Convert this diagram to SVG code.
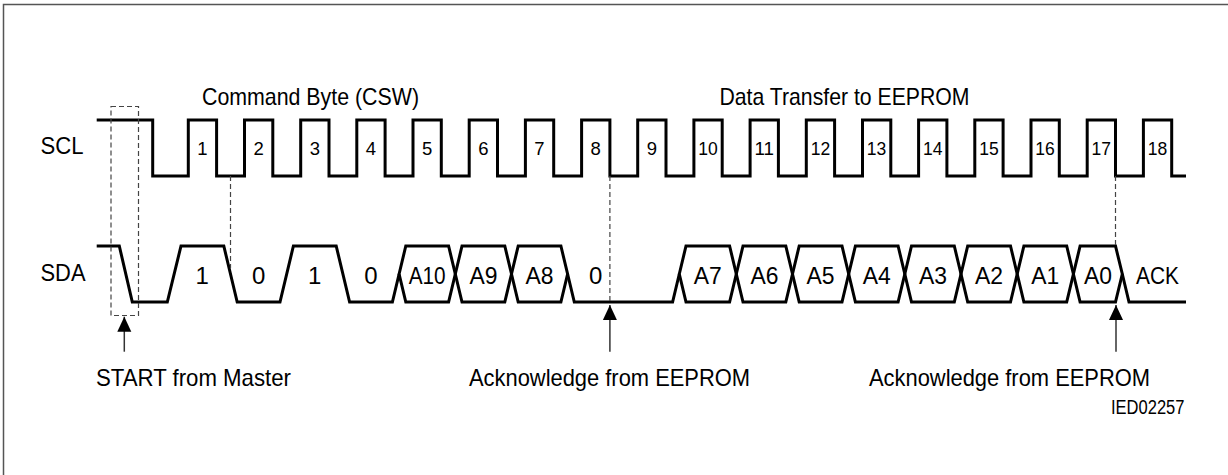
<svg xmlns="http://www.w3.org/2000/svg" width="1228" height="475" viewBox="0 0 1228 475">
<style>
text{font-family:"Liberation Sans",Arial,sans-serif;fill:#000}
.sig{font-size:24px}
.ttl{font-size:24px}
.num{font-size:18.5px;text-anchor:middle}
.bit{font-size:24px;text-anchor:middle}
.lbl{font-size:24px}
.wave{fill:none;stroke:#000;stroke-width:3;stroke-linejoin:miter}
.dash{fill:none;stroke:#444;stroke-width:1.2;stroke-dasharray:5 3}
.arr{stroke:#333;stroke-width:1.5;fill:none;marker-end:url(#ah)}
</style>
<defs>
<marker id="ah" markerUnits="userSpaceOnUse" markerWidth="15" markerHeight="15" viewBox="0 0 15 15" refX="15" refY="7.5" orient="auto">
<path d="M0,0.5 L15,7.5 L0,14.5 z" fill="#000"/>
</marker>
</defs>
<rect width="1228" height="475" fill="#fff"/>
<path d="M3.5,475 V4.5 H1228" fill="none" stroke="#555" stroke-width="1.5"/>

<g id="labels">
<text class="sig" x="40.5" y="154" textLength="43" lengthAdjust="spacingAndGlyphs">SCL</text>
<text class="sig" x="40.5" y="281" textLength="45" lengthAdjust="spacingAndGlyphs">SDA</text>
<text class="ttl" x="202" y="105" textLength="217" lengthAdjust="spacingAndGlyphs">Command Byte (CSW)</text>
<text class="ttl" x="719.5" y="105" textLength="250" lengthAdjust="spacingAndGlyphs">Data Transfer to EEPROM</text>
</g>

<g id="scl">
<path class="wave" d="M96.7,120 H152.7 V176 H188.3 V120 H216.6 V176 H244.5 V120 H272.8 V176 H300.7 V120 H329 V176 H356.8 V120 H385.1 V176 H413 V120 H441.3 V176 H469.2 V120 H497.5 V176 H525.4 V120 H553.7 V176 H581.6 V120 H609.9 V176 H637.7 V120 H666 V176 H693.9 V120 H722.2 V176 H750.1 V120 H778.4 V176 H806.3 V120 H834.6 V176 H862.5 V120 H890.8 V176 H918.6 V120 H946.9 V176 H974.8 V120 H1003.1 V176 H1031 V120 H1059.3 V176 H1087.2 V120 H1115.5 V176 H1143.4 V120 H1171.7 V176 H1186"/>
<text class="num" x="202.5" y="154.5">1</text>
<text class="num" x="258.6" y="154.5">2</text>
<text class="num" x="314.8" y="154.5">3</text>
<text class="num" x="371" y="154.5">4</text>
<text class="num" x="427.2" y="154.5">5</text>
<text class="num" x="483.3" y="154.5">6</text>
<text class="num" x="539.5" y="154.5">7</text>
<text class="num" x="595.7" y="154.5">8</text>
<text class="num" x="651.9" y="154.5">9</text>
<text class="num" x="708" y="154.5" textLength="19.5" lengthAdjust="spacingAndGlyphs">10</text>
<text class="num" x="764.2" y="154.5" textLength="19.5" lengthAdjust="spacingAndGlyphs">11</text>
<text class="num" x="820.4" y="154.5" textLength="19.5" lengthAdjust="spacingAndGlyphs">12</text>
<text class="num" x="876.6" y="154.5" textLength="19.5" lengthAdjust="spacingAndGlyphs">13</text>
<text class="num" x="932.8" y="154.5" textLength="19.5" lengthAdjust="spacingAndGlyphs">14</text>
<text class="num" x="988.9" y="154.5" textLength="19.5" lengthAdjust="spacingAndGlyphs">15</text>
<text class="num" x="1045.1" y="154.5" textLength="19.5" lengthAdjust="spacingAndGlyphs">16</text>
<text class="num" x="1101.3" y="154.5" textLength="19.5" lengthAdjust="spacingAndGlyphs">17</text>
<text class="num" x="1157.5" y="154.5" textLength="19.5" lengthAdjust="spacingAndGlyphs">18</text>
</g>

<g id="sda">
<path class="wave" d="M96.7,246 H119.3 L132.3,302 H167.3 L181,246 H223.8 L237.2,302 H280 L293.4,246 H336.2 L349.6,302 H392.4 L399.1,274"/>
<polygon class="wave" points="399.1,274 405.8,246 448.6,246 455.3,274 448.6,302 405.8,302"/>
<polygon class="wave" points="455.3,274 462,246 504.8,246 511.5,274 504.8,302 462,302"/>
<polygon class="wave" points="511.5,274 518.2,246 560.9,246 567.6,274 560.9,302 518.2,302"/>
<path class="wave" d="M567.6,274 L574.3,302 H672.6 L679.3,274"/>
<polygon class="wave" points="679.3,274 686,246 729.6,246 736.3,274 729.6,302 686,302"/>
<polygon class="wave" points="736.3,274 743,246 785.8,246 792.5,274 785.8,302 743,302"/>
<polygon class="wave" points="792.5,274 799.2,246 842,246 848.7,274 842,302 799.2,302"/>
<polygon class="wave" points="848.7,274 855.4,246 898.1,246 904.8,274 898.1,302 855.4,302"/>
<polygon class="wave" points="904.8,274 911.5,246 954.3,246 961,274 954.3,302 911.5,302"/>
<polygon class="wave" points="961,274 967.7,246 1010.5,246 1017.2,274 1010.5,302 967.7,302"/>
<polygon class="wave" points="1017.2,274 1023.9,246 1066.7,246 1073.4,274 1066.7,302 1023.9,302"/>
<polygon class="wave" points="1073.4,274 1080.1,246 1115.5,246 1122.3,274 1115.5,302 1080.1,302"/>
<path class="wave" d="M1122.3,274 L1129,302 H1186"/>
<text class="bit" x="202.3" y="283.5">1</text>
<text class="bit" x="258.6" y="283.5">0</text>
<text class="bit" x="314.8" y="283.5">1</text>
<text class="bit" x="371" y="283.5">0</text>
<text class="bit" x="427.2" y="283.5" textLength="37" lengthAdjust="spacingAndGlyphs">A10</text>
<text class="bit" x="483.4" y="283.5" textLength="28" lengthAdjust="spacingAndGlyphs">A9</text>
<text class="bit" x="539.6" y="283.5" textLength="28" lengthAdjust="spacingAndGlyphs">A8</text>
<text class="bit" x="595.7" y="283.5">0</text>
<text class="bit" x="707.8" y="283.5" textLength="28" lengthAdjust="spacingAndGlyphs">A7</text>
<text class="bit" x="764.4" y="283.5" textLength="28" lengthAdjust="spacingAndGlyphs">A6</text>
<text class="bit" x="820.6" y="283.5" textLength="28" lengthAdjust="spacingAndGlyphs">A5</text>
<text class="bit" x="876.8" y="283.5" textLength="28" lengthAdjust="spacingAndGlyphs">A4</text>
<text class="bit" x="932.9" y="283.5" textLength="28" lengthAdjust="spacingAndGlyphs">A3</text>
<text class="bit" x="989.1" y="283.5" textLength="28" lengthAdjust="spacingAndGlyphs">A2</text>
<text class="bit" x="1045.3" y="283.5" textLength="28" lengthAdjust="spacingAndGlyphs">A1</text>
<text class="bit" x="1097.9" y="283.5" textLength="28" lengthAdjust="spacingAndGlyphs">A0</text>
<text class="bit" x="1157.5" y="283.5" textLength="43" lengthAdjust="spacingAndGlyphs">ACK</text>
</g>

<g id="start">
<rect class="dash" x="111" y="106.5" width="27.5" height="209"/>
<line class="arr" x1="124.3" y1="351.7" x2="124.3" y2="316.7"/>
<text class="lbl" x="96" y="385.5" textLength="195" lengthAdjust="spacingAndGlyphs">START from Master</text>
</g>

<g id="ack1">
<text class="lbl" x="469" y="385.5" textLength="281" lengthAdjust="spacingAndGlyphs">Acknowledge from EEPROM</text>
</g>

<g id="ack2">
<text class="lbl" x="869" y="385.5" textLength="281" lengthAdjust="spacingAndGlyphs">Acknowledge from EEPROM</text>
<text x="1111" y="414.3" style="font-size:20px" textLength="73.5" lengthAdjust="spacingAndGlyphs">IED02257</text>
</g>

<g id="connectors">
<line class="dash" x1="230.5" y1="176" x2="230.5" y2="268"/>
<line class="dash" x1="609.9" y1="176" x2="609.9" y2="302"/>
<line class="dash" x1="1115.5" y1="176" x2="1115.5" y2="246"/>
<line class="arr" x1="609.9" y1="351.7" x2="609.9" y2="305"/>
<line class="arr" x1="1116" y1="351.7" x2="1116" y2="305"/>
</g>
</svg>
